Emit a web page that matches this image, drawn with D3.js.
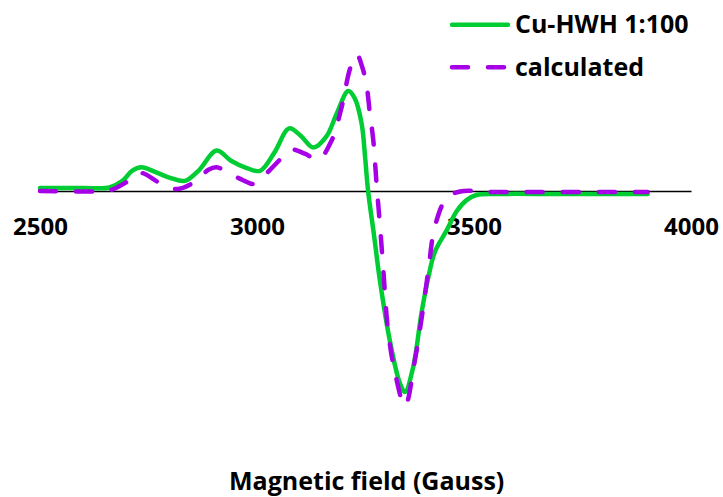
<!DOCTYPE html>
<html><head><meta charset="utf-8">
<script src="https://cdn.jsdelivr.net/npm/d3@7"></script>
<style>
html,body{margin:0;padding:0;background:#fff;}
svg text{font-family:"Open Sans","Noto Sans",sans-serif;font-weight:bold;fill:#000;}
</style></head>
<body><svg id="c" width="723" height="497"></svg>
<script>
const xTicks = [2500, 3000, 3500, 4000];
const seriesNames = ["Cu-HWH 1:100", "calculated"];
const xTitle = "Magnetic field (Gauss)";

const measField = [2500,2600,2660,2690,2712,2734,2765,2800,2834,2865,2907,2940,2975,3007,3040,3074,3100,3130,3160,3184,3210,3225,3241,3249,3256,3270,3283,3306,3329,3341,3360,3379,3395,3410,3437,3460,3483,3506,3550,3700,3900];
const measVal   = [3,3,3.5,10,20,23.5,19,13,10,20,40,30,23,20,38,62,55,43,54,77,99,92,67,34,0,-45,-88,-148,-190,-199,-174,-121,-85,-60,-39,-20,-9,-4,-3,-3,-3];

const calcField = [2500,2650,2670,2700,2730,2776,2815,2860,2888,2907,2930,2976,2995,3030,3060,3080,3110,3141,3172,3195,3215,3230,3243,3253,3260,3268,3276,3283,3291,3302,3318,3341,3364,3380,3395,3410,3437,3468,3550,3900];
const calcVal   = [0,0,2,9,18,8,2,10,21,23.5,19,9,7,21,34,41,37,31,50,83,122,135,122,103,77,50,4,-32,-78,-138,-180,-213,-167,-124,-78,-35,-7,-0.5,-1,-1];

const svg = d3.select("#c");
const x = d3.scaleLinear().domain([2500, 4000]).range([40, 691]);
const y = d3.scaleLinear().domain([-230, 140]).range([191 + 230*1.01, 191 - 140*1.01]);

const green = "#00CC33", purple = "#A600E6";
const font = '"Open Sans","Noto Sans",sans-serif';

// axis
const ax = svg.append("g").attr("transform", `translate(0,${y(0)})`)
  .call(d3.axisBottom(x).tickValues(xTicks).tickSize(0).tickPadding(27).tickFormat(d3.format("d")));
ax.select(".domain").attr("stroke", "#000").attr("stroke-width", 1.5);
ax.selectAll("text").attr("font-size", 24).attr("fill", "#000")
  .style("font-family", font).style("font-weight", "bold");

const line = d3.line().curve(d3.curveCatmullRom.alpha(0.5));

svg.append("path")
  .attr("d", line(measField.map((f, i) => [x(f), y(measVal[i])])))
  .attr("fill", "none").attr("stroke", green).attr("stroke-width", 4.5)
  .attr("stroke-linejoin", "round").attr("stroke-linecap", "round");

svg.append("path")
  .attr("d", line(calcField.map((f, i) => [x(f), y(calcVal[i])])))
  .attr("fill", "none").attr("stroke", purple).attr("stroke-width", 4.5)
  .attr("stroke-dasharray", "16,20").attr("stroke-linecap", "round");

// legend
const lg = svg.append("g");
lg.append("line").attr("x1", 452).attr("x2", 508).attr("y1", 24.7).attr("y2", 24.7)
  .attr("stroke", green).attr("stroke-width", 4.5).attr("stroke-linecap", "round");
lg.append("line").attr("x1", 452).attr("x2", 508).attr("y1", 67.3).attr("y2", 67.3)
  .attr("stroke", purple).attr("stroke-width", 4.5).attr("stroke-linecap", "round")
  .attr("stroke-dasharray", "16,20");
lg.append("text").attr("x", 515).attr("y", 33).attr("font-size", 25).text(seriesNames[0]);
lg.append("text").attr("x", 515).attr("y", 76).attr("font-size", 25).text(seriesNames[1]);

svg.append("text").attr("x", 366.7).attr("y", 490).attr("text-anchor", "middle")
  .attr("font-size", 25).text(xTitle);
</script></body></html>
